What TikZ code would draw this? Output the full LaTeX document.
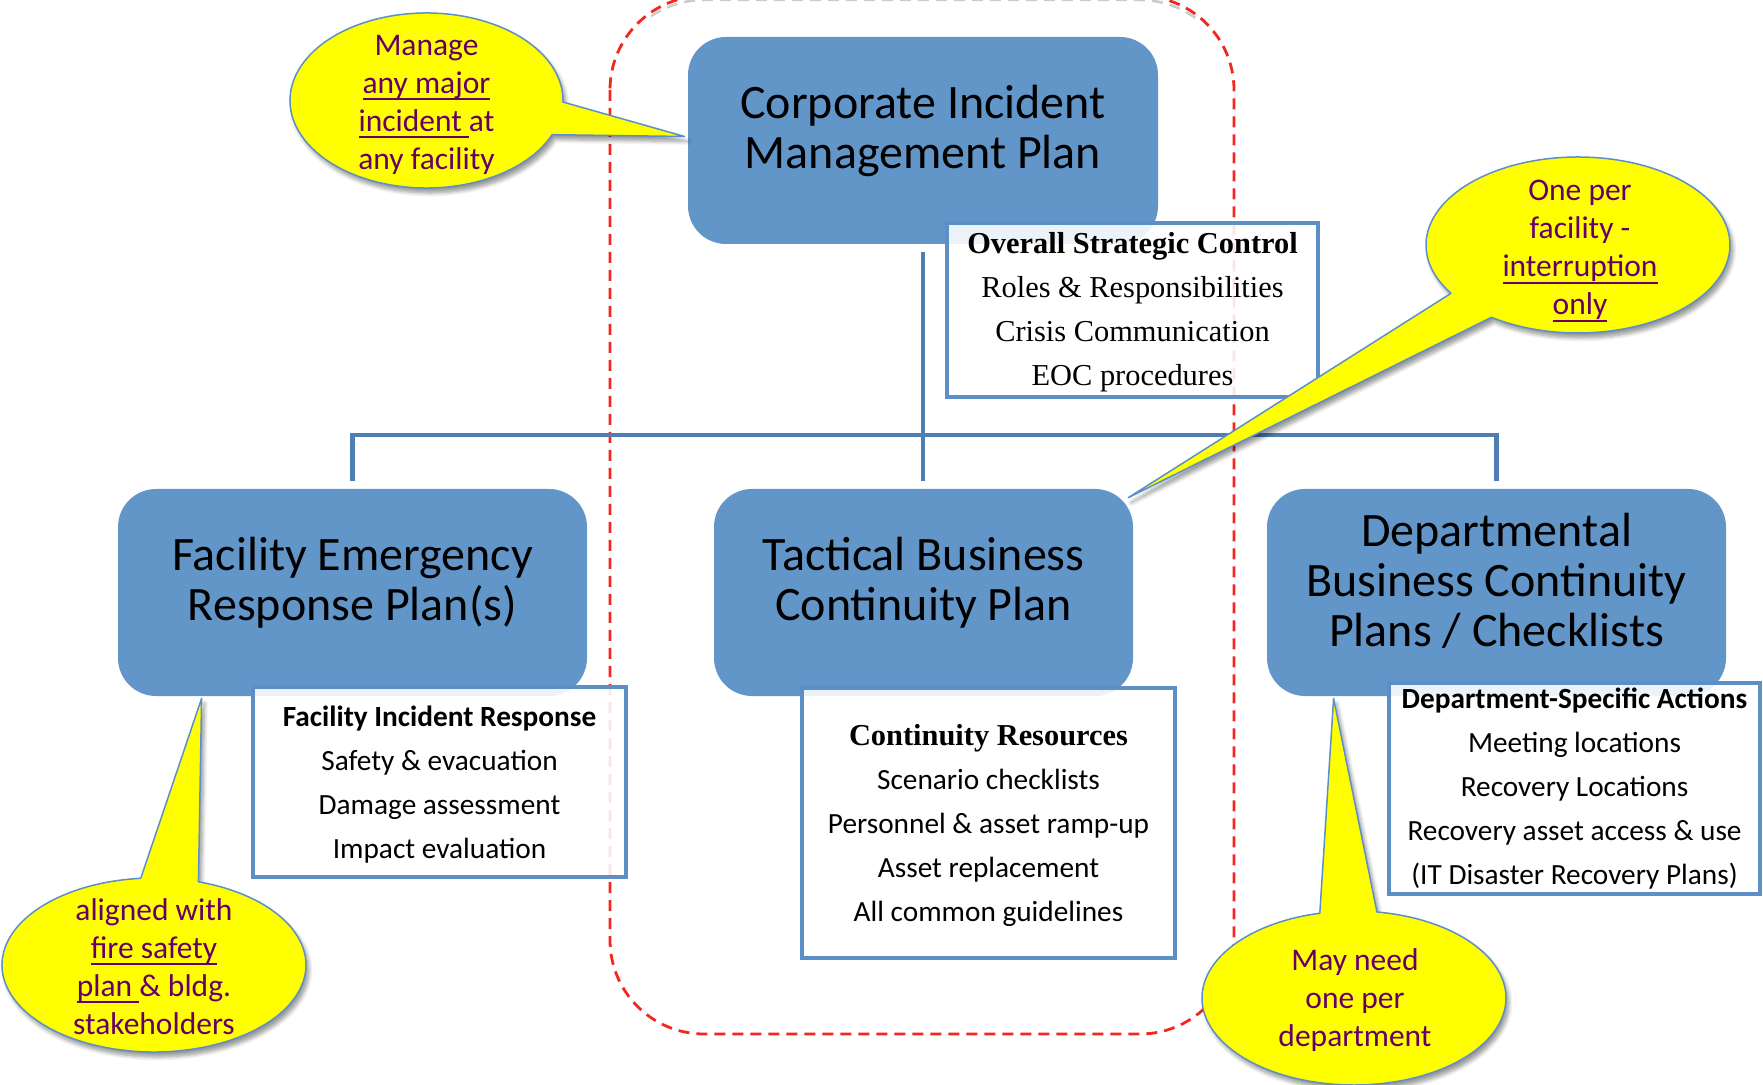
\documentclass[tikz,border=0pt]{standalone}
\usepackage{fontspec}
\setmainfont{Carlito}
\newfontfamily\headserif{Liberation Serif}
\usetikzlibrary{calc,shadows.blur}

\definecolor{planblue}{RGB}{98,150,201}
\definecolor{linkblue}{RGB}{79,126,180}
\definecolor{edgeblue}{RGB}{92,143,200}
\definecolor{notepurple}{RGB}{102,0,102}
\definecolor{noteyellow}{RGB}{255,255,0}
\definecolor{framered}{RGB}{240,40,30}

% thick underline set a little below the baseline
\newcommand\undl[1]{\setbox0\hbox{#1}\rlap{\rule[-3.4pt]{\wd0}{1pt}}\box0}
% strut that lowers a detail box's text block slightly
\newcommand\topstrut{\rule{0pt}{13pt}}

\tikzset{
  plan/.style={fill=planblue, rounded corners=19pt, inner sep=0pt},
  plantext/.style={align=center, inner sep=0pt, text=black,
    font=\fontsize{24}{25}\selectfont},
  detail/.style={draw=edgeblue, line width=2pt, fill=white, fill opacity=0.88,
    text opacity=1, align=center, inner sep=0pt,
    font=\fontsize{14.65}{22}\selectfont},
  serifdetail/.style={detail, font=\headserif\fontsize{15.2}{22}\selectfont},
  conn/.style={draw=linkblue, line width=2.25pt},
  scopeframe/.style={draw=framered, line width=1.4pt, rounded corners=47pt,
    dash pattern=on 5.5pt off 3.5pt},
  frameshade/.style={draw=black!45, opacity=0.45, line width=1.25pt, rounded corners=47pt,
    dash pattern=on 5.5pt off 3.5pt},
  bubble/.style={fill=noteyellow, draw=edgeblue, line width=0.75pt, line join=round,
    blur shadow={shadow xshift=1.5pt, shadow yshift=-2.5pt,
      shadow blur steps=6, shadow opacity=40}},
  notetext/.style={align=center, inner sep=0pt, text=notepurple,
    font=\fontsize{15.75}{19}\selectfont},
}

\begin{document}
\begin{tikzpicture}[x=0.5pt, y=-0.5pt]
\useasboundingbox (0,0) rectangle (1763,1085);

% dashed frame around the corporate / tactical column; its shadow shows along the top
\begin{scope}
  \clip (0,-10) rectangle (1763,20);
  \draw[frameshade] (610,0) rectangle (1234,1038);
\end{scope}
\draw[scopeframe] (610,-4) rectangle (1234,1034);

% plan boxes
\node[plan, minimum width=235pt, minimum height=103.5pt] (corp) at (923,140.5) {};
\node[plan, minimum width=234.5pt, minimum height=103.5pt] (fac) at (352.5,592.5) {};
\node[plan, minimum width=209.5pt, minimum height=103.5pt] (tac) at (923.5,592.5) {};
\node[plan, minimum width=229.5pt, minimum height=103.5pt] (dept) at (1496.5,592.5) {};

\node[plantext] (corptxt) at ($(corp.center)+(0,-9.5)$) {Corporate Incident\\Management Plan};
\node[plantext] (factxt) at ($(fac.center)+(0,-9.5)$) {Facility Emergency\\Response Plan(s)};
\node[plantext] (tactxt) at ($(tac.center)+(0,-9.5)$) {Tactical Business\\Continuity Plan};
\node[plantext] (depttxt) at ($(dept.center)+(0,-12)$) {Departmental\\Business Continuity\\Plans / Checklists};

% tree connectors
\coordinate (stem) at ($(corp.south)+(0,8)$);
\coordinate (facin) at ($(fac.north)+(0,-8)$);
\coordinate (tacin) at ($(tac.north)+(0,-8)$);
\coordinate (deptin) at ($(dept.north)+(0,-8)$);
\coordinate (bus) at (923,435);
\draw[conn] (stem) -- (stem |- tacin);
\draw[conn] (facin) -- (facin |- bus) -- (deptin |- bus) -- (deptin);

% detail boxes
\node[serifdetail, minimum width=185.5pt, minimum height=87pt] (strat) at (1132.5,310)
  {\topstrut\textbf{Overall Strategic Control}\\Roles \& Responsibilities\\Crisis Communication\\EOC procedures};
\node[detail, minimum width=186.5pt, minimum height=95pt] (facresp) at (439.5,782)
  {\topstrut\textbf{Facility Incident Response}\\Safety \& evacuation\\Damage assessment\\Impact evaluation};
\node[detail, minimum width=186.5pt, minimum height=135pt] (contres) at (988.5,823)
  {\topstrut{\headserif\fontsize{15.2}{22}\selectfont\bfseries Continuity Resources}\\Scenario checklists\\Personnel \& asset ramp-up\\Asset replacement\\All common guidelines};
\node[detail, minimum width=185.5pt, minimum height=105.5pt] (deptact) at (1574.5,788.5)
  {\textbf{Department-Specific Actions}\\Meeting locations\\Recovery Locations\\Recovery asset access \& use\\(IT Disaster Recovery Plans)};

% callouts
\coordinate (c1) at (426.5,100.5);
\coordinate (tip1) at ($(corp.west)+(-3,-4)$);
\path[bubble] (tip1) -- ($(c1)+(23:136.5 and 87.5)$)
  arc[start angle=23, end angle=361, x radius=136.5, y radius=87.5] -- cycle;
\node[notetext] (note1) at ($(c1)+(0,4.5)$)
  {Manage\\\undl{any major}\\\undl{incident }at\\any facility};

\coordinate (c2) at (1578,245);
\coordinate (tip2) at ($(tac.north east)+(-5,9)$);
\path[bubble] (tip2) -- ($(c2)+(146.7:152 and 88)$)
  arc[start angle=146.7, end angle=484.7, x radius=152, y radius=88] -- cycle;
\node[notetext] (note2) at ($(c2)+(2,6)$)
  {One per\\facility -\\\undl{interruption}\\\undl{only}};

\coordinate (c3) at (154,965);
\coordinate (tip3) at ($(fac.south west)+(84,2)$);
\path[bubble] (tip3) -- ($(c3)+(287:152 and 87)$)
  arc[start angle=287, end angle=625, x radius=152, y radius=87] -- cycle;
\node[notetext] (note3) at ($(c3)+(0,1.5)$)
  {aligned with\\\undl{fire safety}\\\undl{plan }\& bldg.\\stakeholders};

\coordinate (c4) at (1354,998);
\coordinate (tip4) at ($(dept.south west)+(67,2)$);
\path[bubble] (tip4) -- ($(c4)+(278.7:152 and 87)$)
  arc[start angle=278.7, end angle=617, x radius=152, y radius=87] -- cycle;
\node[notetext] (note4) at ($(c4)+(1,2.5)$)
  {May need\\one per\\department};
\end{tikzpicture}
\end{document}
